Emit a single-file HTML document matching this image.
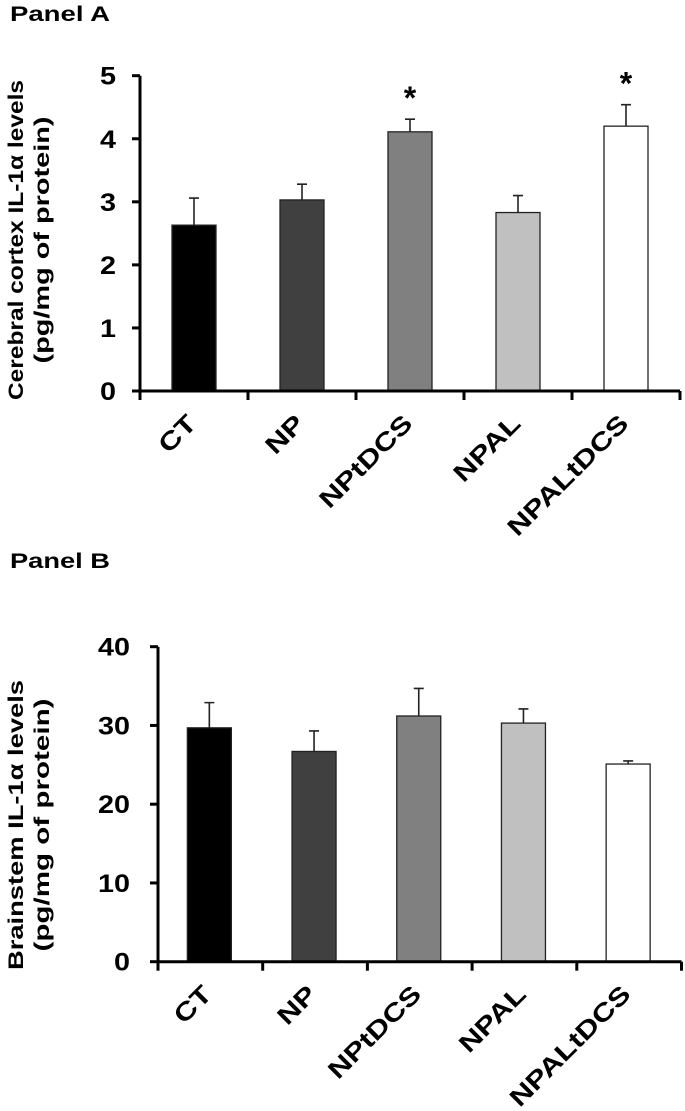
<!DOCTYPE html>
<html><head><meta charset="utf-8"><style>
html,body{margin:0;padding:0;background:#fff;}
svg{display:block;}
text{font-family:"Liberation Sans",Arial,sans-serif;font-weight:bold;fill:#000;}
</style></head><body>
<svg id="chart" width="685" height="1111" viewBox="0 0 685 1111" xmlns="http://www.w3.org/2000/svg">
<text x="10" y="21" font-size="21" textLength="100" lengthAdjust="spacingAndGlyphs">Panel A</text>
<text x="10" y="568" font-size="21" textLength="100" lengthAdjust="spacingAndGlyphs">Panel B</text>
<g transform="translate(23,240) rotate(-90)">
<text x="0" y="0" font-size="21" text-anchor="middle" textLength="320" lengthAdjust="spacingAndGlyphs">Cerebral cortex IL-1α levels</text>
<text x="0" y="26" font-size="21" text-anchor="middle" textLength="247" lengthAdjust="spacingAndGlyphs">(pg/mg of protein)</text>
</g>
<g transform="translate(23,825) rotate(-90)">
<text x="0" y="0" font-size="21" text-anchor="middle" textLength="290" lengthAdjust="spacingAndGlyphs">Brainstem IL-1α levels</text>
<text x="0" y="26" font-size="21" text-anchor="middle" textLength="253" lengthAdjust="spacingAndGlyphs">(pg/mg of protein)</text>
</g>
<g id="pa"></g>
<g id="pb"></g>
</svg>
<script>
const categories = ["CT","NP","NPtDCS","NPAL","NPALtDCS"];
const colors = ["#000000","#404040","#808080","#c0c0c0","#ffffff"];
const valuesA = [2.63, 3.03, 4.11, 2.83, 4.2];
const errorsA = [0.43, 0.25, 0.2, 0.27, 0.34];
const starsA = [false, false, true, false, true];
const ticksA = [0,1,2,3,4,5];
const valuesB = [29.7, 26.7, 31.2, 30.3, 25.1];
const errorsB = [3.2, 2.6, 3.5, 1.8, 0.4];
const starsB = [false, false, false, false, false];
const ticksB = [0,10,20,30,40];

const NS = "http://www.w3.org/2000/svg";
function mk(parent, tag, attrs, txt){
  const e = document.createElementNS(NS, tag);
  for (const k in attrs) e.setAttribute(k, attrs[k]);
  if (txt !== undefined) e.textContent = txt;
  parent.appendChild(e);
  return e;
}
function drawPanel(g, cfg, vals, errs, stars, ticks){
  const y = v => cfg.y0 - (v - cfg.min) / (cfg.max - cfg.min) * (cfg.y0 - cfg.yTop);
  const x = i => cfg.x0 + cfg.step * (i + 0.5) + cfg.shift;
  vals.forEach((v,i)=>{
    const r = mk(g,'rect',{x:x(i)-22,y:y(v),width:44,height:cfg.y0-y(v),fill:colors[i],stroke:'#222','stroke-width':1.3});
    
    
    const e = mk(g,'path',{d:`M${x(i)} ${y(v)}V${y(v+errs[i])}M${x(i)-5} ${y(v+errs[i])}H${x(i)+5}`,stroke:'#222','stroke-width':1.6,fill:'none'});
    
    
    if (stars[i]) {
      const s = mk(g,'text',{x:x(i),y:y(v+errs[i])-10,'font-size':32,'text-anchor':'middle'},'*');
      
      
    }
    const lbl = mk(g,'text',{transform:`translate(${x(i)+4},${cfg.y0+34}) rotate(-45) scale(1.25,1)`,'font-size':25,'text-anchor':'end'},categories[i]);
    
    
  });
  const ax = mk(g,'path',{d:`M${cfg.x0} ${cfg.yTop}V${cfg.y0}H${cfg.x0+cfg.step*5}`,stroke:'#000','stroke-width':3,fill:'none'});
  
  
  for (let i=0;i<=5;i++){
    mk(g,'line',{x1:cfg.x0+cfg.step*i,x2:cfg.x0+cfg.step*i,y1:cfg.y0,y2:cfg.y0+9,stroke:'#000','stroke-width':3});
  }
  ticks.forEach(t=>{
    mk(g,'line',{x1:cfg.x0-8,x2:cfg.x0,y1:y(t),y2:y(t),stroke:'#000','stroke-width':3});
    const tl = mk(g,'text',{transform:`translate(${cfg.labelX},${y(t)+9}) scale(1.15,1)`,'font-size':25,'text-anchor':'end'},String(t));
    
    
  });
}
drawPanel(document.getElementById('pa'),{x0:140,step:108,shift:0,y0:391,yTop:75.7,min:0,max:5,labelX:116},valuesA,errorsA,starsA,ticksA);
drawPanel(document.getElementById('pb'),{x0:158,step:104.7,shift:-1,y0:961.7,yTop:646.7,min:0,max:40,labelX:130},valuesB,errorsB,starsB,ticksB);
</script>
</body></html>
